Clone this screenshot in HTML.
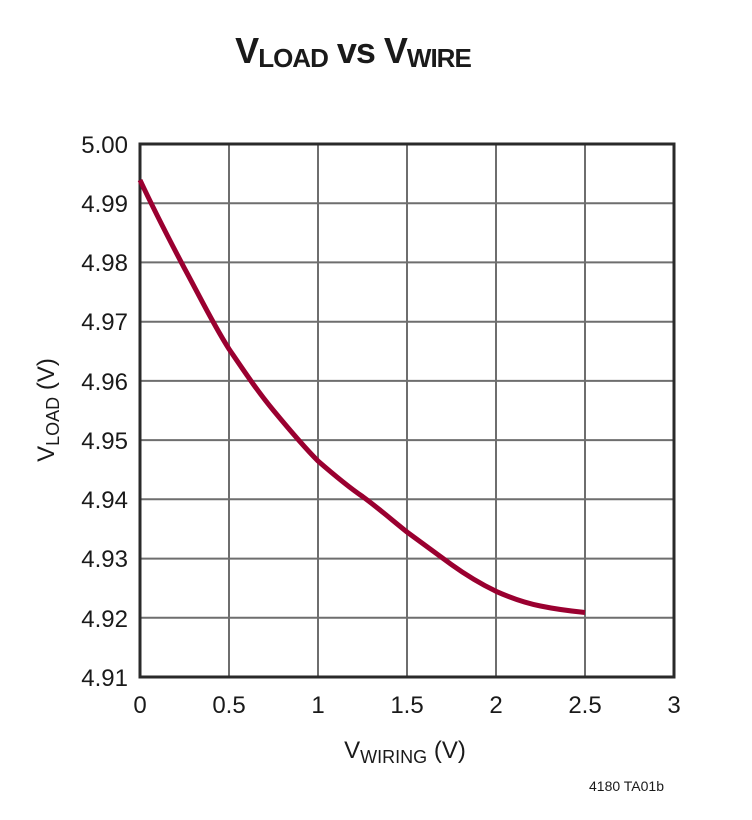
<!DOCTYPE html>
<html><head><style>
body{margin:0;background:#fff;}
svg text{font-family:"Liberation Sans",sans-serif;fill:#1a1a1a;}
</style></head><body>
<svg width="752" height="815" xmlns="http://www.w3.org/2000/svg">
<text x="353" y="63" font-size="36" font-weight="bold" text-anchor="middle" style="letter-spacing:-1px">V<tspan font-size="26" dy="4">LOAD</tspan><tspan dy="-4"> vs V</tspan><tspan font-size="26" dy="4">WIRE</tspan></text>
<g stroke="#6e6e6e" stroke-width="2">
<line x1="229" y1="144" x2="229" y2="677"/><line x1="318" y1="144" x2="318" y2="677"/><line x1="407" y1="144" x2="407" y2="677"/><line x1="496" y1="144" x2="496" y2="677"/><line x1="585" y1="144" x2="585" y2="677"/>
<line x1="140" y1="203.2" x2="674" y2="203.2"/><line x1="140" y1="262.4" x2="674" y2="262.4"/><line x1="140" y1="321.7" x2="674" y2="321.7"/><line x1="140" y1="380.9" x2="674" y2="380.9"/><line x1="140" y1="440.1" x2="674" y2="440.1"/><line x1="140" y1="499.3" x2="674" y2="499.3"/><line x1="140" y1="558.6" x2="674" y2="558.6"/><line x1="140" y1="617.8" x2="674" y2="617.8"/>
</g>
<rect x="140" y="144" width="534" height="533" fill="none" stroke="#2a2a2a" stroke-width="3"/>
<path d="M140,180 C155,212 170,241 184.5,268.4 C199,295 213,324 229,349 C244,371 258,392 273.5,410.5 C288,428 303,446 318,461 C333,474 347,486 362.5,496.5 C377,507 392,520 407,532 C422,543 437,554 451.5,564.6 C466,575 481,584 496,591.3 C511,598 525,603 540.5,606 C555,609 570,611 585,612.5" fill="none" stroke="#9a0030" stroke-width="5"/>
<g font-size="24" text-anchor="end">
<text x="128" y="153">5.00</text><text x="128" y="212">4.99</text><text x="128" y="271">4.98</text><text x="128" y="330">4.97</text><text x="128" y="390">4.96</text><text x="128" y="449">4.95</text><text x="128" y="508">4.94</text><text x="128" y="567">4.93</text><text x="128" y="627">4.92</text><text x="128" y="686">4.91</text>
</g>
<g font-size="24" text-anchor="middle">
<text x="140" y="713">0</text><text x="229" y="713">0.5</text><text x="318" y="713">1</text><text x="407" y="713">1.5</text><text x="496" y="713">2</text><text x="585" y="713">2.5</text><text x="674" y="713">3</text>
</g>
<text x="405" y="758" font-size="24" text-anchor="middle">V<tspan font-size="18" dy="5">WIRING</tspan><tspan dy="-5"> (V)</tspan></text>
<text transform="translate(54,410) rotate(-90)" font-size="24" text-anchor="middle">V<tspan font-size="18" dy="5">LOAD</tspan><tspan dy="-5"> (V)</tspan></text>
<text x="664" y="791" font-size="14" text-anchor="end">4180 TA01b</text>
</svg>
</body></html>
